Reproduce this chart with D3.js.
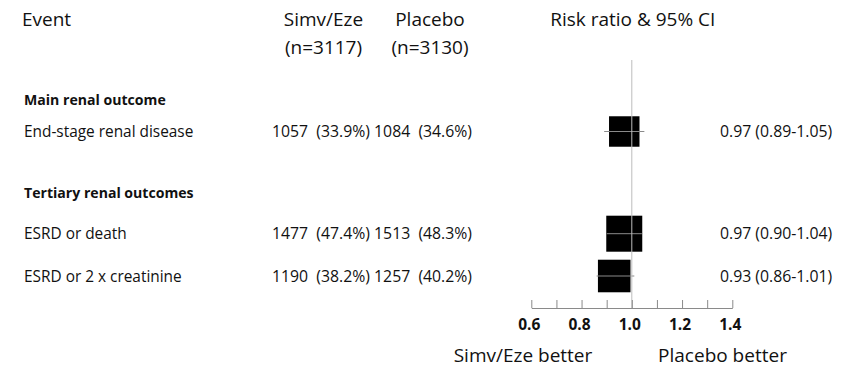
<!DOCTYPE html>
<html>
<head>
<meta charset="utf-8">
<script src="https://cdn.jsdelivr.net/npm/d3@7/dist/d3.min.js"></script>
<style>
  html, body { margin: 0; padding: 0; background: #fff; }
  svg { display: block; }
  text { font-family: "Open Sans", Lato, sans-serif; fill: #111; white-space: pre; }
</style>
</head>
<body>
<svg id="chart" width="852" height="370"></svg>
<script>
// Renal outcomes: Simv/Eze vs placebo
const events = ["End-stage renal disease", "ESRD or death", "ESRD or 2 x creatinine"];
const sections = ["Main renal outcome", "Tertiary renal outcomes"];
const simvEzeN = [1057, 1477, 1190];
const simvEzePct = [33.9, 47.4, 38.2];
const placeboN = [1084, 1513, 1257];
const placeboPct = [34.6, 48.3, 40.2];
const riskRatio = [0.97, 0.97, 0.93];
const ciLow = [0.89, 0.90, 0.86];
const ciHigh = [1.05, 1.04, 1.01];
const tickValues = [0.6, 0.7, 0.8, 0.9, 1.0, 1.1, 1.2, 1.3, 1.4];
const tickLabels = ["0.6", "0.8", "1.0", "1.2", "1.4"];
const groupHeads = [["Simv/Eze", "(n=3117)"], ["Placebo", "(n=3130)"]];
const sideLabels = ["Simv/Eze better", "Placebo better"];

const svg = d3.select("#chart");

// horizontal risk-ratio scale
const x = d3.scaleLinear().domain([0.6, 1.4]).range([531.3, 732.3]);
const axisY = 308;

// vertical layout of the table lines
const sectionY = [100, 193];
const eventY = [131.5, 233.7, 276];

const HEAD = 19, BODY = 15.4, NUM = 15.8, SECT = 14.1, TICK = 15.5;

// box side grows with the square root of total events
const totals = simvEzeN.map((v, i) => v + placeboN[i]);
const size = d3.scaleSqrt().domain([0, d3.max(totals)]).range([0, 36]);

// header
svg.append("text").attr("x", 22).attr("y", 26).attr("font-size", HEAD).text("Event");
const headX = [323.5, 430];
groupHeads.forEach((h, j) => {
  svg.append("text").attr("x", headX[j]).attr("y", 26).attr("font-size", HEAD)
    .attr("text-anchor", "middle").text(h[0]);
  svg.append("text").attr("x", headX[j]).attr("y", 54).attr("font-size", HEAD)
    .attr("text-anchor", "middle").text(h[1]);
});
svg.append("text").attr("x", x(1.0) + 1).attr("y", 26).attr("font-size", HEAD)
  .attr("text-anchor", "middle").text("Risk ratio & 95% CI");

// section headings
svg.selectAll("text.section").data(sections).join("text")
  .attr("class", "section")
  .attr("x", 24).attr("y", (d, i) => sectionY[i] + 5)
  .attr("font-size", SECT).attr("font-weight", "bold")
  .text(d => d);

// event rows
const rows = events.map((e, i) => ({
  name: e, i,
  counts: `${simvEzeN[i]}  (${simvEzePct[i].toFixed(1)}%) ${placeboN[i]}  (${placeboPct[i].toFixed(1)}%)`,
  ci: `${riskRatio[i].toFixed(2)} (${ciLow[i].toFixed(2)}-${ciHigh[i].toFixed(2)})`
}));

const rowG = svg.selectAll("g.row").data(rows).join("g")
  .attr("class", "row")
  .attr("transform", d => `translate(0,${eventY[d.i]})`);

rowG.append("text").attr("x", 24).attr("y", 5.5).attr("font-size", BODY).text(d => d.name);
rowG.append("text").attr("x", 272).attr("y", 5.5).attr("font-size", NUM).text(d => d.counts);
rowG.append("text").attr("x", 720).attr("y", 5.5).attr("font-size", NUM).text(d => d.ci);

// reference line at 1.0
svg.append("line")
  .attr("x1", x(1.0)).attr("x2", x(1.0))
  .attr("y1", 60).attr("y2", axisY)
  .attr("stroke", "#bdbdbd").attr("stroke-width", 1);

// boxes
rowG.append("rect")
  .attr("x", d => x(riskRatio[d.i]) - size(totals[d.i]) / 2)
  .attr("y", d => -size(totals[d.i]) / 2)
  .attr("width", d => size(totals[d.i]))
  .attr("height", d => size(totals[d.i]))
  .attr("fill", "#000");

// confidence intervals
rowG.append("line")
  .attr("x1", d => x(ciLow[d.i])).attr("x2", d => x(ciHigh[d.i]))
  .attr("y1", 0).attr("y2", 0)
  .attr("stroke", "#8a8a8a").attr("stroke-width", 1);

// axis
const axis = d3.axisTop(x).tickValues(tickValues).tickSize(8).tickSizeOuter(0).tickFormat("");
const axG = svg.append("g").attr("transform", `translate(0,${axisY})`).call(axis);
axG.select(".domain").attr("stroke", "#8a8a8a");
axG.selectAll(".tick line").attr("stroke", "#8a8a8a");

svg.selectAll("text.ticklab").data(tickLabels).join("text")
  .attr("class", "ticklab")
  .attr("x", d => x(+d) - 2).attr("y", axisY + 22)
  .attr("text-anchor", "middle").attr("font-size", TICK).attr("font-weight", "bold")
  .text(d => d);

// direction labels
const sideX = [523, 722.5];
svg.selectAll("text.side").data(sideLabels).join("text")
  .attr("class", "side")
  .attr("x", (d, i) => sideX[i]).attr("y", 362)
  .attr("font-size", HEAD).attr("text-anchor", "middle")
  .text(d => d);
</script>
</body>
</html>
